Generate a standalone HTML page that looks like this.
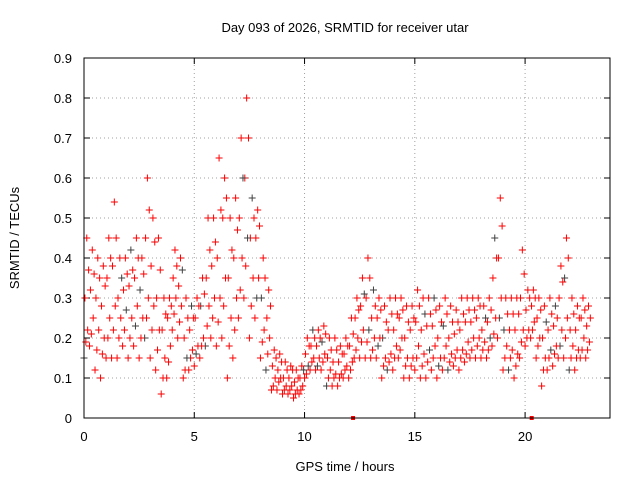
<!DOCTYPE html>
<html><head><meta charset="utf-8"><style>
html,body{margin:0;padding:0;background:#fff;}
svg text{font-family:"Liberation Sans",sans-serif;font-size:13px;fill:#000;}
</style></head><body>
<svg id="chart" width="640" height="480" xmlns="http://www.w3.org/2000/svg">
<rect width="640" height="480" fill="#fff"/>
<text x="345" y="32" text-anchor="middle">Day 093 of 2026, SRMTID for receiver utar</text>
<text x="19" y="238" text-anchor="middle" transform="rotate(-90 19 238)">SRMTID / TECUs</text>
<text x="345" y="471" text-anchor="middle">GPS time / hours</text>
<g id="grid"></g><g id="ticks"></g><g id="marks"></g>
<rect x="84" y="58" width="526" height="360" fill="none" stroke="#000" stroke-width="1"/>
</svg>
<script>
const slotStart = 0, slotStep = 0.25;
const lo = [.15,.18,.12,.1,.15,.15,.15,.18,.15,.18,.15,.2,.15,.12,.06,.1,.22,.2,.1,.12,.13,.15,.18,.2,.18,.2,.1,.15,.25,.3,.2,.25,.15,.12,.07,.07,.06,.06,.05,.06,.1,.12,.12,.12,.08,.08,.08,.1,.1,.15,.15,.15,.15,.15,.1,.12,.12,.15,.1,.1,.12,.1,.1,.12,.1,.12,.12,.13,.12,.14,.15,.15,.15,.15,.18,.2,.12,.12,.1,.15,.18,.2,.15,.08,.12,.13,.15,.15,.12,.12,.15,.15];
const lowMid = [.19,.21,.17,.16,.2,.22,.2,.22,.2,.23,.2,.25,.22,.17,.1,.14,.26,.24,.12,.15,.16,.18,.23,.25,.24,.28,.18,.22,.32,.38,.28,.3,.19,.16,.08,.09,.07,.07,.06,.07,.11,.14,.13,.14,.1,.1,.1,.12,.12,.17,.19,.19,.17,.18,.13,.14,.15,.17,.13,.13,.15,.13,.14,.15,.13,.15,.14,.15,.15,.16,.17,.18,.17,.17,.21,.25,.15,.15,.13,.19,.2,.22,.18,.12,.15,.16,.18,.2,.15,.15,.17,.17];
const midA = [.22,.25,.22,.2,.25,.28,.25,.27,.25,.28,.25,.3,.28,.22,.15,.18,.3,.28,.15,.17,.18,.2,.28,.3,.3,.35,.25,.3,.4,.45,.35,.35,.22,.2,.1,.1,.08,.08,.07,.08,.13,.15,.15,.16,.12,.11,.11,.13,.14,.2,.22,.22,.2,.2,.15,.16,.18,.2,.15,.15,.18,.16,.17,.18,.15,.18,.16,.17,.17,.19,.2,.2,.19,.2,.25,.3,.18,.17,.16,.22,.22,.24,.2,.15,.17,.18,.22,.25,.18,.17,.2,.19];
const midB = [.3,.32,.3,.28,.35,.38,.3,.32,.33,.35,.32,.45,.38,.3,.22,.25,.35,.33,.2,.22,.25,.28,.35,.38,.4,.5,.35,.4,.5,.6,.45,.45,.3,.25,.13,.12,.1,.1,.09,.1,.16,.18,.18,.19,.15,.14,.14,.16,.18,.25,.28,.3,.25,.25,.2,.22,.22,.25,.2,.22,.24,.22,.23,.23,.2,.23,.2,.21,.22,.24,.24,.25,.22,.24,.35,.4,.22,.22,.22,.3,.27,.28,.25,.2,.22,.23,.3,.35,.22,.22,.25,.23];
const highMid = [.37,.36,.35,.33,.4,.45,.35,.36,.37,.4,.36,.52,.44,.37,.26,.28,.38,.37,.25,.25,.28,.31,.42,.44,.52,.55,.42,.47,.6,.7,.5,.48,.35,.28,.15,.14,.12,.12,.1,.12,.18,.2,.2,.21,.17,.17,.16,.18,.21,.27,.31,.35,.28,.27,.24,.26,.26,.27,.24,.25,.28,.26,.26,.27,.24,.26,.24,.24,.26,.27,.27,.28,.25,.27,.4,.48,.26,.26,.26,.36,.3,.3,.27,.24,.26,.25,.34,.4,.26,.25,.27,.25];
const hi = [.45,.42,.4,.38,.45,.54,.4,.4,.42,.45,.4,.6,.5,.45,.3,.3,.42,.4,.3,.28,.3,.35,.5,.5,.65,.6,.5,.55,.7,.8,.55,.52,.4,.32,.17,.16,.14,.13,.12,.13,.2,.22,.22,.23,.2,.2,.18,.2,.25,.3,.35,.4,.32,.3,.28,.3,.3,.3,.28,.28,.32,.3,.3,.3,.28,.3,.28,.27,.3,.3,.3,.3,.28,.3,.45,.55,.3,.3,.3,.42,.32,.32,.3,.28,.3,.28,.38,.45,.3,.28,.3,.28];
const xTicks = [0,5,10,15,20];
const yTicks = [0,0.1,0.2,0.3,0.4,0.5,0.6,0.7,0.8,0.9];
const flagTimes = [12.2, 20.3];

const NS = "http://www.w3.org/2000/svg";
const X0 = 84, X1 = 610, Y0 = 418, Y1 = 58, XMAX = 23.85, YMAX = 0.9;
const xs = v => X0 + v / XMAX * (X1 - X0);
const ys = v => Y0 - v / YMAX * (Y0 - Y1);
function mk(tag, attrs, parent) {
  const e = document.createElementNS(NS, tag);
  for (const k in attrs) e.setAttribute(k, attrs[k]);
  document.getElementById(parent).appendChild(e);
  return e;
}
yTicks.forEach(v => {
  const y = ys(v);
  if (v > 0 && v < YMAX) {
    const g = mk('line', {x1: X0, x2: X1, y1: y, y2: y, stroke: '#a0a0a0', 'stroke-dasharray': '1,3'}, 'grid');
    
    
  }
  const t = mk('line', {x1: X0, x2: X0 + 6, y1: y, y2: y, stroke: '#000'}, 'ticks');
  
  
  const t2 = mk('line', {x1: X1, x2: X1 - 6, y1: y, y2: y, stroke: '#000'}, 'ticks');
  
  
  const l = mk('text', {x: X0 - 12, y: y + 5, 'text-anchor': 'end'}, 'ticks');
  l.textContent = (v === 0 ? '0' : v.toFixed(1));
  
  
});
xTicks.forEach(v => {
  const x = xs(v);
  if (v > 0) {
    const g = mk('line', {x1: x, x2: x, y1: Y0, y2: Y1, stroke: '#a0a0a0', 'stroke-dasharray': '1,3'}, 'grid');
    
    
  }
  const t = mk('line', {x1: x, x2: x, y1: Y0, y2: Y0 - 6, stroke: '#000'}, 'ticks');
  
  
  const t2 = mk('line', {x1: x, x2: x, y1: Y1, y2: Y1 + 6, stroke: '#000'}, 'ticks');
  
  
  const l = mk('text', {x: x, y: Y0 + 23, 'text-anchor': 'middle'}, 'ticks');
  l.textContent = String(v);
  
  
});
function cross(t, v, color) {
  const x = xs(t), y = ys(v);
  const p = mk('path', {d: `M${x-3.5},${y}h7M${x},${y-3.5}v7`, stroke: color, 'stroke-width': 1, fill: 'none'}, 'marks');
  
  
}
const series = [lo, midB, lowMid, hi, midA, highMid];
series.forEach((arr, k) => {
  arr.forEach((v, i) => {
    const t = slotStart + (i + k / series.length) * slotStep;
    cross(t, v, (i + k) % 11 === 0 ? '#404040' : '#ff0000');
  });
});
flagTimes.forEach(t => {
  const r = mk('rect', {x: xs(t) - 2, y: Y0 - 2, width: 4, height: 4, fill: '#ff0000'}, 'marks');
  
  
});
</script>
</body></html>
